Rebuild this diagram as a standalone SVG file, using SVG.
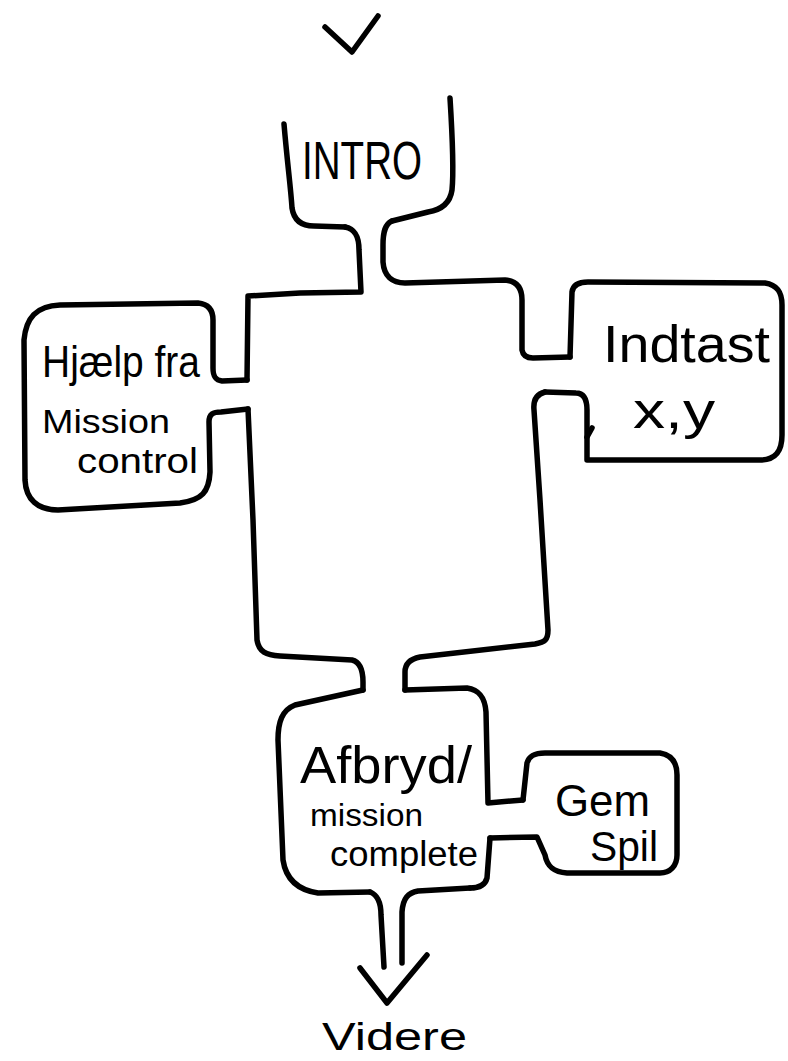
<svg xmlns="http://www.w3.org/2000/svg" width="788" height="1061" viewBox="0 0 788 1061">
<style>
path{fill:none;stroke:#000;stroke-width:5.5;stroke-linecap:round;stroke-linejoin:round}
text{font-family:"Liberation Sans","DejaVu Sans",sans-serif;fill:#000;font-weight:normal}
</style>
<rect width="788" height="1061" fill="#fff"/>
<g id="connectors">
<path d="M325,27 L352,52 L378,16"/>
<path d="M345,227 C355,229 359,236 359,250 L361,292 L300,293 L248,296 L247,380"/>
<path d="M392,221 C385,224 383,232 383,245 L383,262 C384,276 392,283 405,283 L505,280 C517,281 522,288 522,300 L522,350 C523,356 527,358 533,358 L570,357"/>
<path d="M248,409 L253,520 L257,640 C259,652 266,655 280,656 L352,660 C360,662 363,670 363,682 L363,690"/>
<path d="M545,392 C537,394 533,400 534,410 L540,500 L548,630 C548,640 545,642 535,644 L420,657 C410,659 405,664 405,672 L405,690"/>
<path d="M370,892 C378,895 381,903 381,915 L384,967"/>
<path d="M402,963 L402,912 C403,898 408,893 418,891 L470,888"/>
<path d="M360,968 L387,1003 L427,955"/>
</g>
<g id="intro">
<path d="M284,124 C287,160 291,190 292,208 C294,221 302,226 314,226 L345,227"/>
<path d="M450,98 C452,130 454,170 452,190 C450,204 440,210 428,212 L392,221"/>
<text x="302" y="179" font-size="54" textLength="120" lengthAdjust="spacingAndGlyphs">INTRO</text>
</g>
<g id="hjaelp">
<path d="M247,380 L222,381 C215,380 213,376 213,368 L213,320 C213,310 208,304 198,303 L60,305 C36,306 26,318 24,340 L25,480 C26,500 38,510 58,510 L180,503 C202,500 209,492 210,472 L209,422 C209,414 213,412 221,412 L248,409"/>
<text x="42" y="377" font-size="44" textLength="158" lengthAdjust="spacingAndGlyphs">Hjælp fra</text>
<text x="42" y="433" font-size="34" textLength="128" lengthAdjust="spacingAndGlyphs">Mission</text>
<text x="77" y="473" font-size="35" textLength="121" lengthAdjust="spacingAndGlyphs">control</text>
</g>
<g id="indtast">
<path d="M570,357 L572,292 C573,285 578,282 588,282 L765,283 C778,285 782,293 782,305 L782,435 C782,452 775,460 760,460 L587,460 L587,410 C587,398 583,393 576,393 L545,392"/>
<path d="M587,437 L592,428"/>
<text x="603" y="362" font-size="52" textLength="167" lengthAdjust="spacingAndGlyphs">Indtast</text>
<text x="633" y="428" font-size="52" textLength="82" lengthAdjust="spacingAndGlyphs">x,y</text>
</g>
<g id="afbryd">
<path d="M363,690 L295,705 C282,710 278,722 278,740 L283,860 C286,880 298,890 318,893 L370,892"/>
<path d="M405,690 L467,688 C480,690 485,698 486,712 L488,803 L523,800"/>
<path d="M490,838 L487,878 C485,886 478,888 470,888"/>
<text x="300" y="783" font-size="52" textLength="172" lengthAdjust="spacingAndGlyphs">Afbryd/</text>
<text x="310" y="826" font-size="31" textLength="113" lengthAdjust="spacingAndGlyphs">mission</text>
<text x="330" y="866" font-size="35" textLength="148" lengthAdjust="spacingAndGlyphs">complete</text>
</g>
<g id="gemspil">
<path d="M523,800 L527,763 C529,756 534,753 545,753 L660,753 C672,755 677,763 677,775 L677,855 C677,866 670,873 660,873 L567,873 C553,872 547,866 545,855 L537,837 L490,838"/>
<text x="555" y="816" font-size="44" textLength="95" lengthAdjust="spacingAndGlyphs">Gem</text>
<text x="590" y="861" font-size="42" textLength="68" lengthAdjust="spacingAndGlyphs">Spil</text>
</g>
<g id="videre">
<text x="322" y="1050" font-size="38" textLength="145" lengthAdjust="spacingAndGlyphs">Videre</text>
</g>
</svg>
